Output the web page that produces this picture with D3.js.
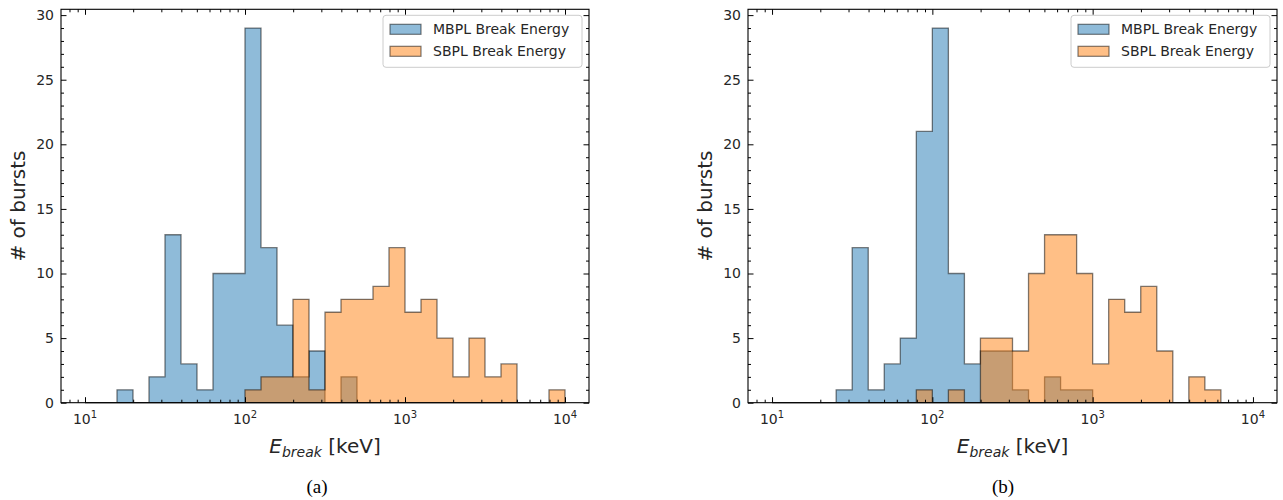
<!DOCTYPE html>
<html>
<head>
<meta charset="utf-8">
<script src="https://cdn.jsdelivr.net/npm/d3@7"></script>
<style>
  body { margin: 0; background: #fff; }
  svg { display: block; }
  text { font-family: "DejaVu Sans", sans-serif; fill: #262626; }
</style>
</head>
<body>
<svg id="chart" width="1283" height="500"></svg>
<script>
// histogram bins: 30 log-spaced bins from 10^1 to 10^4
const binEdges = d3.range(31).map(i => Math.pow(10, 1 + i / 10));

// counts per bin, panel (a)
const mbplA = [0, 0, 1, 0, 2, 13, 3, 1, 10, 10, 29, 12, 6, 2, 4, 0, 2, 0, 0, 0, 0, 0, 0, 0, 0, 0, 0, 0, 0, 0];
const sbplA = [0, 0, 0, 0, 0, 0, 0, 0, 0, 0, 1, 2, 2, 8, 1, 7, 8, 8, 9, 12, 7, 8, 5, 2, 5, 2, 3, 0, 0, 1];

// counts per bin, panel (b)
const mbplB = [0, 0, 0, 0, 1, 12, 1, 3, 5, 21, 29, 10, 3, 4, 4, 1, 0, 2, 1, 1, 0, 0, 0, 0, 0, 0, 0, 0, 0, 0];
const sbplB = [0, 0, 0, 0, 0, 0, 0, 0, 0, 1, 0, 1, 0, 5, 5, 4, 10, 13, 13, 10, 3, 8, 7, 9, 4, 0, 2, 1, 0, 0];

const seriesNames = ["MBPL Break Energy", "SBPL Break Energy"];
const seriesColors = ["#1f77b4", "#ff7f0e"];
const yMajorTicks = [0, 5, 10, 15, 20, 25, 30];
const xMajorExps = [1, 2, 3, 4];

const panels = [
    { caption: "(a)", data: [mbplA, sbplA], left: 61, right: 589, captionX: 317 },
    { caption: "(b)", data: [mbplB, sbplB], left: 748, right: 1277, captionX: 1003 }
];

const plotTop = 9.3, plotBottom = 402.7;
const svg = d3.select("#chart");

// minor ticks on the log axis
const xMinor = [];
for (let d = 0; d <= 3; d++) {
    for (let k = 2; k <= 9; k++) xMinor.push(k * Math.pow(10, d));
}
const yMinor = d3.range(0, 31).filter(v => v % 5 !== 0);

panels.forEach(p => {
    const g = svg.append("g");
    const width = p.right - p.left;

    const x = d3.scaleLog()
        .domain([Math.pow(10, 0.85), Math.pow(10, 4.15)])
        .range([p.left, p.right]);

    const y = d3.scaleLinear()
        .domain([0, 29 * 1.05])
        .range([plotBottom, plotTop]);

    const xMin = x.domain()[0], xMax = x.domain()[1];
    const minorIn = xMinor.filter(v => v > xMin && v < xMax);
    const majorVals = xMajorExps.map(e => Math.pow(10, e));

    // stepfilled histograms
    const area = d3.area()
        .x(d => x(d.x))
        .y0(y(0))
        .y1(d => y(d.c))
        .curve(d3.curveStepAfter);

    p.data.forEach((counts, i) => {
        const pts = counts.map((c, j) => ({ x: binEdges[j], c: c }));
        pts.push({ x: binEdges[30], c: counts[29] });
        g.append("path")
            .datum(pts)
            .attr("d", area)
            .attr("fill", seriesColors[i])
            .attr("fill-opacity", 0.5)
            .attr("stroke", "#000")
            .attr("stroke-opacity", 0.5)
            .attr("stroke-width", 1.3)
            .attr("stroke-linejoin", "miter");
    });

    // ticks pointing inward on all four sides
    const tickStyle = sel => {
        sel.select(".domain").remove();
        sel.selectAll("line").attr("stroke", "#000").attr("stroke-width", 1);
    };

    g.append("g")
        .attr("transform", `translate(0,${plotBottom})`)
        .call(d3.axisBottom(x).tickValues(majorVals).tickSize(-5.5).tickFormat(""))
        .call(tickStyle);
    g.append("g")
        .attr("transform", `translate(0,${plotBottom})`)
        .call(d3.axisBottom(x).tickValues(minorIn).tickSize(-3).tickFormat(""))
        .call(tickStyle);
    g.append("g")
        .attr("transform", `translate(0,${plotTop})`)
        .call(d3.axisTop(x).tickValues(majorVals).tickSize(-5.5).tickFormat(""))
        .call(tickStyle);
    g.append("g")
        .attr("transform", `translate(0,${plotTop})`)
        .call(d3.axisTop(x).tickValues(minorIn).tickSize(-3).tickFormat(""))
        .call(tickStyle);

    g.append("g")
        .attr("transform", `translate(${p.left},0)`)
        .call(d3.axisLeft(y).tickValues(yMajorTicks).tickSize(-5.5).tickPadding(7))
        .call(tickStyle)
        .selectAll("text")
        .attr("font-size", 14)
        .attr("font-family", "DejaVu Sans")
        .attr("fill", "#262626");
    g.append("g")
        .attr("transform", `translate(${p.left},0)`)
        .call(d3.axisLeft(y).tickValues(yMinor).tickSize(-3).tickFormat(""))
        .call(tickStyle);
    g.append("g")
        .attr("transform", `translate(${p.right},0)`)
        .call(d3.axisRight(y).tickValues(yMajorTicks).tickSize(-5.5).tickFormat(""))
        .call(tickStyle);
    g.append("g")
        .attr("transform", `translate(${p.right},0)`)
        .call(d3.axisRight(y).tickValues(yMinor).tickSize(-3).tickFormat(""))
        .call(tickStyle);

    // x tick labels 10^n
    xMajorExps.forEach(e => {
        const t = g.append("text")
            .attr("x", x(Math.pow(10, e)))
            .attr("y", plotBottom + 21.5)
            .attr("text-anchor", "middle")
            .attr("font-size", 14);
        t.append("tspan").text("10");
        t.append("tspan").attr("dy", -6.5).attr("font-size", 10).text(e);
    });

    // frame
    g.append("rect")
        .attr("x", p.left)
        .attr("y", plotTop)
        .attr("width", width)
        .attr("height", plotBottom - plotTop)
        .attr("fill", "none")
        .attr("stroke", "#000")
        .attr("stroke-width", 1.1);

    // axis labels
    g.append("text")
        .attr("transform", `translate(${p.left - 36},${(plotTop + plotBottom) / 2}) rotate(-90)`)
        .attr("text-anchor", "middle")
        .attr("font-size", 20)
        .text("# of bursts");

    const xl = g.append("text")
        .attr("x", (p.left + p.right) / 2)
        .attr("y", plotBottom + 50)
        .attr("text-anchor", "middle")
        .attr("font-size", 20);
    xl.append("tspan").attr("font-style", "italic").text("E");
    xl.append("tspan").attr("font-style", "italic").attr("font-size", 14).attr("dy", 4).text("break");
    xl.append("tspan").attr("dy", -4).text(" [keV]");

    // legend
    const lx = p.right - 206, ly = plotTop + 6;
    g.append("rect")
        .attr("x", lx)
        .attr("y", ly)
        .attr("width", 199)
        .attr("height", 52)
        .attr("rx", 3)
        .attr("fill", "#fff")
        .attr("fill-opacity", 0.8)
        .attr("stroke", "#ccc")
        .attr("stroke-width", 1);
    seriesNames.forEach((name, i) => {
        const ry = ly + 14 + i * 22;
        g.append("rect")
            .attr("x", lx + 7)
            .attr("y", ry - 5)
            .attr("width", 31)
            .attr("height", 10)
            .attr("fill", seriesColors[i])
            .attr("fill-opacity", 0.5)
            .attr("stroke", "#000")
            .attr("stroke-opacity", 0.5)
            .attr("stroke-width", 1.2);
        g.append("text")
            .attr("x", lx + 50)
            .attr("y", ry + 5)
            .attr("font-size", 14)
            .text(name);
    });

    // sub-figure caption
    svg.append("text")
        .attr("x", p.captionX)
        .attr("y", 493)
        .attr("text-anchor", "middle")
        .attr("font-size", 19)
        .style("font-family", "'Liberation Serif', serif")
        .style("fill", "#000")
        .text(p.caption);
});
</script>
</body>
</html>
